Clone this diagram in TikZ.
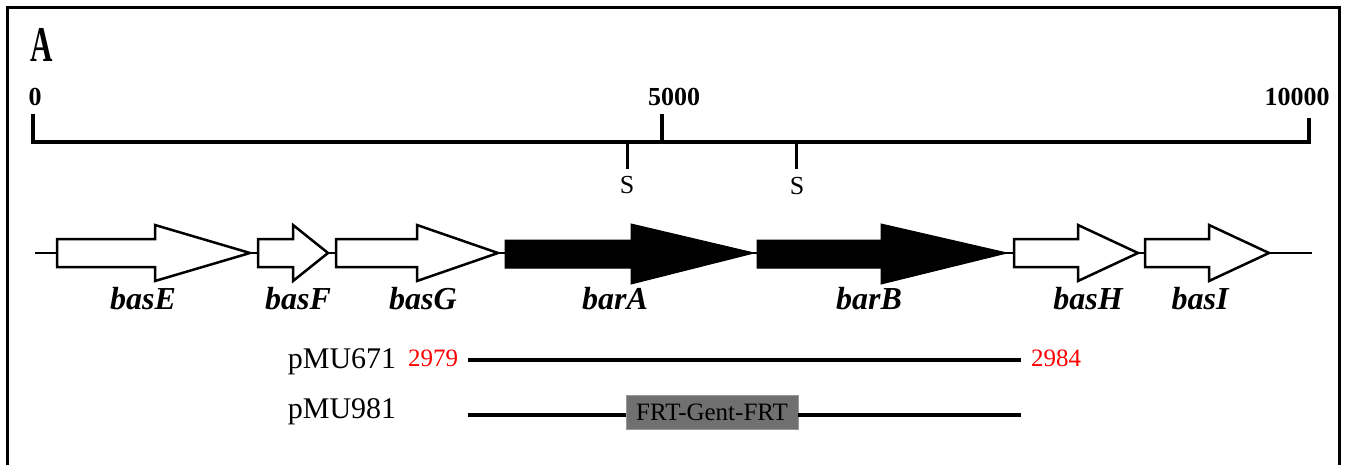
\documentclass[tikz,border=0pt]{standalone}
\usepackage{fontspec}
\setmainfont{Liberation Serif}
\begin{document}
\begin{tikzpicture}[x=1pt,y=-1pt,
  frame/.style={line width=3pt},
  axis/.style={line width=3.5pt},
  tickS/.style={line width=3pt},
  scalelbl/.style={inner sep=0pt,font=\fontsize{26}{28}\selectfont\bfseries},
  sitelbl/.style={inner sep=0pt,font=\fontsize{26}{28}\selectfont},
  backbone/.style={line width=2pt},
  genew/.style={draw=black,fill=white,line width=2.5pt,line join=miter},
  geneb/.style={draw=black,fill=black,line width=1pt,line join=miter},
  genelbl/.style={inner sep=0pt,font=\fontsize{32}{34}\selectfont\bfseries\itshape},
  plasmid/.style={inner sep=0pt,font=\fontsize{30}{32}\selectfont},
  poslbl/.style={inner sep=0pt,text=red,font=\fontsize{25}{27}\selectfont},
  insert/.style={line width=4pt},
  cassette/.style={fill=black!56,draw=black!40,line width=0.5pt,inner sep=0pt,minimum width=172pt,minimum height=34pt,font=\fontsize{25}{27}\selectfont}
]
\useasboundingbox (0,0) rectangle (1346,465);
% frame
\draw[frame] (7,480) -- (7,8) -- (1339,8) -- (1339,480);
\node[inner sep=0pt,font=\fontsize{50}{52}\selectfont\bfseries] (panel) at (42,45) {\scalebox{0.62}[1]{A}};
% scale bar
\node[scalelbl] (l0) at (35,97) {0};
\node[scalelbl] (l5) at (674,97) {5000};
\node[scalelbl] (l10) at (1297,97) {10000};
\coordinate (a0) at (33,142);
\coordinate (a10) at (1309,142);
\coordinate (a5) at (662,142);
\draw[axis] (33,114) -- (a0) -- (a10) -- (1309,118);
\draw[axis] (a5) -- (662,114);
\coordinate (sa) at (627,142);
\coordinate (sb) at (796,142);
\draw[tickS] (sa) -- (627,169);
\draw[tickS] (sb) -- (796,169);
\node[sitelbl] (s1) at (627,185) {S};
\node[sitelbl] (s2) at (797,186) {S};
% backbone
\coordinate (bb1) at (35,253);
\coordinate (bb2) at (1312,253);
\draw[backbone] (bb1) -- (bb2);
% genes: start, head start, tip
\draw[genew] (57,239) -- (155,239) -- (155,225) -- (250,253) -- (155,281) -- (155,267) -- (57,267) -- cycle;
\draw[genew] (258,239) -- (293,239) -- (293,225) -- (328,253) -- (293,281) -- (293,267) -- (258,267) -- cycle;
\draw[genew] (336,239) -- (417,239) -- (417,225) -- (498,253) -- (417,281) -- (417,267) -- (336,267) -- cycle;
\draw[geneb] (505,240) -- (631,240) -- (631,224) -- (754,253) -- (631,284) -- (631,268) -- (505,268) -- cycle;
\draw[geneb] (757,240) -- (881,240) -- (881,224) -- (1007,253) -- (881,284) -- (881,268) -- (757,268) -- cycle;
\draw[genew] (1014,239) -- (1078,239) -- (1078,225) -- (1138,253) -- (1078,281) -- (1078,267) -- (1014,267) -- cycle;
\draw[genew] (1145,239) -- (1209,239) -- (1209,225) -- (1269,253) -- (1209,281) -- (1209,267) -- (1145,267) -- cycle;
\node[genelbl] (gE) at (143,299) {basE};
\node[genelbl] (gF) at (298,299) {basF};
\node[genelbl] (gG) at (423,299) {basG};
\node[genelbl] (gA) at (615,299) {barA};
\node[genelbl] (gB) at (869,299) {barB};
\node[genelbl] (gH) at (1088,299) {basH};
\node[genelbl] (gI) at (1200,299) {basI};
% plasmids
\node[plasmid] (p671) at (342,362) {pMU671};
\node[poslbl] (n2979) at (433,358) {2979};
\node[poslbl] (n2984) at (1056,358) {2984};
\coordinate (p1a) at (468,360);
\coordinate (p1b) at (1021,360);
\draw[insert] (p1a) -- (p1b);
\node[plasmid] (p981) at (342,412) {pMU981};
\coordinate (p2a) at (468,415);
\coordinate (p2b) at (1021,415);
\node[cassette] (frt) at (712,412) {FRT-Gent-FRT};
\draw[insert] (p2a) -- (frt.west |- p2a);
\draw[insert] (frt.east |- p2b) -- (p2b);
\end{tikzpicture}
\end{document}
